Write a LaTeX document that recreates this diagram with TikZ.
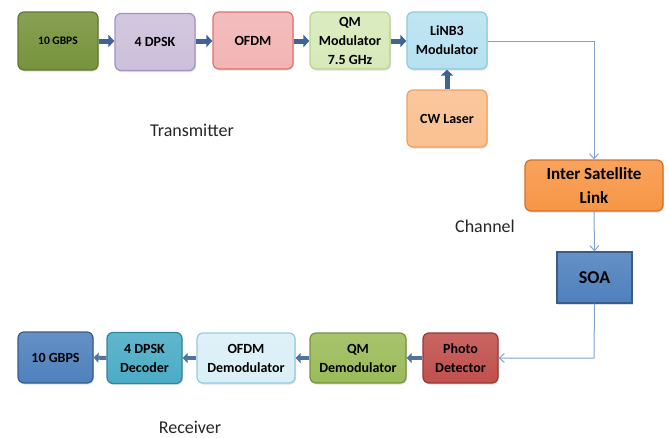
\documentclass[tikz,border=0pt]{standalone}
\usepackage{fontspec}
\setmainfont{Carlito}
\usetikzlibrary{arrows.meta,shadows}
\definecolor{gA}{HTML}{77933C}\definecolor{gAb}{HTML}{5E7A2E}
\definecolor{pu}{HTML}{CCC0DA}\definecolor{pub}{HTML}{A591C4}
\definecolor{pk}{HTML}{F2B4B4}\definecolor{pkb}{HTML}{E07070}
\definecolor{lg}{HTML}{D7E9B9}\definecolor{lgb}{HTML}{B8D58A}
\definecolor{lb}{HTML}{B7E1F0}\definecolor{lbb}{HTML}{8CCBE0}
\definecolor{pe}{HTML}{FAC090}\definecolor{peb}{HTML}{F0A060}
\definecolor{or}{HTML}{F79646}\definecolor{orb}{HTML}{D2702A}
\definecolor{bl}{HTML}{4F81BD}\definecolor{blb}{HTML}{385D8A}
\definecolor{rd}{HTML}{C0504D}\definecolor{rdb}{HTML}{953735}
\definecolor{gr}{HTML}{9BBB59}\definecolor{grb}{HTML}{77933C}
\definecolor{vl}{HTML}{DAEFF7}\definecolor{vlb}{HTML}{93CDDD}
\definecolor{tl}{HTML}{4BACC6}\definecolor{tlb}{HTML}{31859C}
\definecolor{thick}{HTML}{3F6395}
\definecolor{thin}{HTML}{7FA4D4}
\tikzset{
  blk/.style={draw=#1b, top color=#1!88!white, bottom color=#1, line width=1.2pt, rounded corners=6pt, inner sep=0pt,
     align=center, font=\fontsize{14}{19}\selectfont\bfseries,
     drop shadow={shadow xshift=1pt,shadow yshift=-1.5pt,opacity=0.25}},
  fat/.style={draw=thick, line width=5pt, -{Triangle[width=12pt,length=6pt]}},
  fatr/.style={draw=thick!90!white, line width=4pt, -{Triangle[width=10pt,length=5pt]}},
  slim/.style={draw=thin, line width=1pt, -{Straight Barb[length=5pt,width=9pt]}},
  lbl/.style={font=\fontsize{18}{20}\selectfont, text=black!85}
}
\begin{document}
\begin{tikzpicture}[x=1pt,y=-1pt]
\useasboundingbox (0,0) rectangle (670,437);
% transmitter
\node[blk=gA, minimum width=80, minimum height=58, font=\fontsize{11.5}{14}\selectfont\bfseries] (g10) at (58,41) {10 GBPS};
\node[blk=pu, minimum width=80, minimum height=57] (dpsk) at (155,42) {4 DPSK};
\node[blk=pk, minimum width=80, minimum height=57] (ofdm) at (253,40.5) {OFDM};
\node[blk=lg, minimum width=80, minimum height=57] (qm) at (350,40.5) {QM\\Modulator\\7.5 GHz};
\node[blk=lb, minimum width=80, minimum height=57] (linb) at (447,40.5) {LiNB3\\Modulator};
\node[blk=pe, minimum width=80, minimum height=57] (cw) at (447,118.5) {CW Laser};
% channel
\node[blk=or, minimum width=138, minimum height=51, font=\fontsize{17}{24}\selectfont\bfseries] (isl) at (594,185.5) {Inter Satellite\\Link};
\node[blk=bl, rounded corners=0pt, minimum width=75, minimum height=51, font=\fontsize{18}{20}\selectfont\bfseries] (soa) at (594.5,277.5) {SOA};
% receiver
\node[blk=rd, minimum width=75, minimum height=50] (pd) at (460.5,358) {Photo\\Detector};
\node[blk=gr, minimum width=96, minimum height=50] (qmd) at (358,358) {QM\\Demodulator};
\node[blk=vl, minimum width=98, minimum height=50] (ofdmd) at (246,358) {OFDM\\Demodulator};
\node[blk=tl, minimum width=75, minimum height=51] (dec) at (144.5,358) {4 DPSK\\Decoder};
\node[blk=bl, minimum width=75, minimum height=51] (g10b) at (55.5,357.5) {10 GBPS};
% labels
\node[lbl] (tx) at (192,130) {Transmitter};
\node[lbl] (ch) at (485,226) {Channel};
\node[lbl] (rx) at (190,427) {Receiver};
% coordinates
\coordinate (c1) at (594,41);
\coordinate (c2) at (594,358);
% arrows
\draw[fat] (g10.east |- 0,41) -- (dpsk.west |- 0,41);
\draw[fat] (dpsk.east |- 0,41) -- (ofdm.west |- 0,41);
\draw[fat] (ofdm.east |- 0,41) -- (qm.west |- 0,41);
\draw[fat] (qm.east |- 0,41) -- (linb.west |- 0,41);
\draw[fat] (cw.north) -- (linb.south);
\draw[slim] (linb.east |- c1) -- (c1) -- (isl.north);
\draw[slim] (isl.south) -- (soa.north);
\draw[slim] (soa.south) -- (c2) -- (pd.east);
\draw[fatr] (pd.west) -- (qmd.east);
\draw[fatr] (qmd.west) -- (ofdmd.east);
\draw[fatr] (ofdmd.west) -- (dec.east);
\draw[fatr] (dec.west) -- (g10b.east);
\end{tikzpicture}
\end{document}
